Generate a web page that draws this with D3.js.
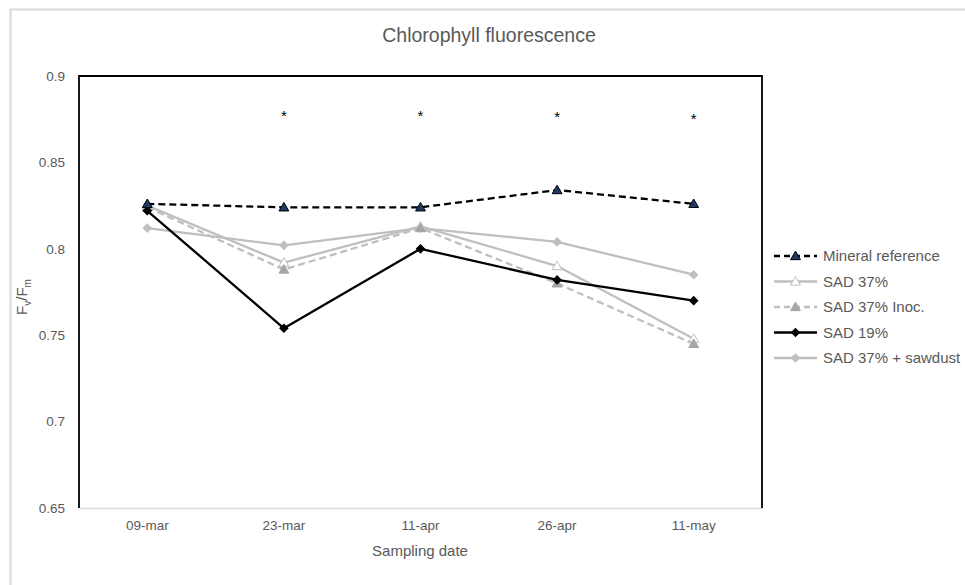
<!DOCTYPE html>
<html>
<head>
<meta charset="utf-8">
<script src="https://cdn.jsdelivr.net/npm/d3@7"></script>
<style>
  html, body { margin: 0; padding: 0; background: #fff; }
  svg { display: block; }
</style>
</head>
<body>
<svg id="chart" width="965" height="585"></svg>
<script>
const categories = ["09-mar", "23-mar", "11-apr", "26-apr", "11-may"];
const seriesNames = ["Mineral reference", "SAD 37%", "SAD 37% Inoc.", "SAD 19%", "SAD 37% + sawdust"];
const mineralRef = [0.826, 0.824, 0.824, 0.834, 0.826];
const sad37 = [0.825, 0.792, 0.813, 0.790, 0.748];
const sad37Inoc = [0.824, 0.788, 0.812, 0.780, 0.745];
const sad19 = [0.822, 0.754, 0.800, 0.782, 0.770];
const sad37Sawdust = [0.812, 0.802, 0.812, 0.804, 0.785];
const asteriskLevels = [null, 0.8785, 0.8785, 0.878, 0.877];
const yTicks = [0.65, 0.7, 0.75, 0.8, 0.85, 0.9];
const yDomain = [0.65, 0.9];

const styles = [
  { values: mineralRef, color: "#000000", dash: "7,4", marker: "triangle", fill: "#1f3864", stroke: "#000000" },
  { values: sad37, color: "#bfbfbf", dash: null, marker: "triangle", fill: "#ffffff", stroke: "#bfbfbf" },
  { values: sad37Inoc, color: "#bfbfbf", dash: "7,4", marker: "triangle", fill: "#a6a6a6", stroke: "#a6a6a6" },
  { values: sad19, color: "#000000", dash: null, marker: "diamond", fill: "#000000", stroke: "#000000" },
  { values: sad37Sawdust, color: "#bfbfbf", dash: null, marker: "diamond", fill: "#bfbfbf", stroke: "#bfbfbf" }
];

const svg = d3.select("#chart");
const plot = { left: 79, top: 76, right: 762, bottom: 508 };
const textColor = "#595959";
const font = "'Liberation Sans', Arial, sans-serif";

// outer chart border (light gray)
svg.append("line").attr("x1", 10).attr("x2", 965).attr("y1", 9.5).attr("y2", 9.5)
  .attr("stroke", "#d9d9d9").attr("stroke-width", 2);
svg.append("line").attr("x1", 10.5).attr("x2", 10.5).attr("y1", 9).attr("y2", 585)
  .attr("stroke", "#d9d9d9").attr("stroke-width", 2);

const x = d3.scaleBand().domain(categories).range([plot.left, plot.right]);
const y = d3.scaleLinear().domain(yDomain).range([plot.bottom, plot.top]);
const cx = c => x(c) + x.bandwidth() / 2;

// title
svg.append("text").attr("x", 489).attr("y", 42).attr("text-anchor", "middle")
  .attr("font-family", font).attr("font-size", 19.5).attr("fill", textColor)
  .text("Chlorophyll fluorescence");

// x axis
const xAxis = svg.append("g").attr("transform", `translate(0,${plot.bottom})`)
  .call(d3.axisBottom(x).tickSize(0).tickPadding(12));
xAxis.select(".domain").attr("stroke", "#d9d9d9").attr("stroke-width", 1.5);
xAxis.selectAll("text").attr("font-family", font).attr("font-size", 13.5).attr("fill", textColor);

// y axis
const yAxis = svg.append("g").attr("transform", `translate(${plot.left},0)`)
  .call(d3.axisLeft(y).tickValues(yTicks).tickSize(0).tickPadding(14)
    .tickFormat(d => d3.format("~g")(d)));
yAxis.select(".domain").remove();
yAxis.selectAll("text").attr("font-family", font).attr("font-size", 13.5).attr("fill", textColor);

// plot border: left, top, right dark
svg.append("path")
  .attr("d", `M${plot.left},${plot.bottom}V${plot.top}H${plot.right}V${plot.bottom}`)
  .attr("fill", "none").attr("stroke", "#000").attr("stroke-width", 1.8);

// axis titles
svg.append("text").attr("x", 420).attr("y", 556).attr("text-anchor", "middle")
  .attr("font-family", font).attr("font-size", 15).attr("fill", textColor)
  .text("Sampling date");
const yt = svg.append("text").attr("transform", "translate(27,297) rotate(-90)")
  .attr("text-anchor", "middle").attr("font-family", font).attr("font-size", 15).attr("fill", textColor);
yt.append("tspan").text("F");
yt.append("tspan").attr("font-size", 10).attr("dy", 4).text("v");
yt.append("tspan").attr("dy", -4).text("/F");
yt.append("tspan").attr("font-size", 10).attr("dy", 4).text("m");

const triangle = d3.symbol().type(d3.symbolTriangle).size(42);
const diamond = d3.symbol().type(d3.symbolSquare).size(34);

function drawMarker(g, s, px, py) {
  if (s.marker === "triangle") {
    g.append("path").attr("d", triangle()).attr("transform", `translate(${px},${py + 0.8})`)
      .attr("fill", s.fill).attr("stroke", s.stroke).attr("stroke-width", 1);
  } else {
    g.append("path").attr("d", diamond()).attr("transform", `translate(${px},${py}) rotate(45)`)
      .attr("fill", s.fill).attr("stroke", s.stroke).attr("stroke-width", 1);
  }
}

const line = d3.line().x((d, i) => cx(categories[i])).y(d => y(d));
// draw order: light gray first, then darker on top
const order = [4, 1, 2, 3, 0];
order.forEach(idx => {
  const s = styles[idx];
  const g = svg.append("g");
  g.append("path").attr("d", line(s.values)).attr("fill", "none")
    .attr("stroke", s.color).attr("stroke-width", 2.3)
    .attr("stroke-dasharray", s.dash).attr("stroke-linejoin", "round");
  s.values.forEach((v, i) => drawMarker(g, s, cx(categories[i]), y(v)));
});

// asterisks
svg.append("g").selectAll("text").data(asteriskLevels.map((v, i) => ({ v, c: categories[i] })).filter(d => d.v !== null))
  .join("text")
  .attr("x", d => cx(d.c)).attr("y", d => y(d.v) + 8)
  .attr("text-anchor", "middle").attr("font-family", font).attr("font-size", 15).attr("fill", "#000")
  .text("*");

// legend
const legend = svg.append("g");
const legX = 774, legY0 = 256, legStep = 25.5;
seriesNames.forEach((name, i) => {
  const s = styles[i];
  const ly = legY0 + i * legStep;
  const g = legend.append("g");
  g.append("line").attr("x1", legX).attr("x2", legX + 43).attr("y1", ly).attr("y2", ly)
    .attr("stroke", s.color).attr("stroke-width", 2.3).attr("stroke-dasharray", s.dash ? "6,4" : null);
  drawMarker(g, s, legX + 21.5, ly);
  g.append("text").attr("x", legX + 49).attr("y", ly + 5)
    .attr("font-family", font).attr("font-size", 15).attr("fill", textColor).text(name);
});
</script>
</body>
</html>
